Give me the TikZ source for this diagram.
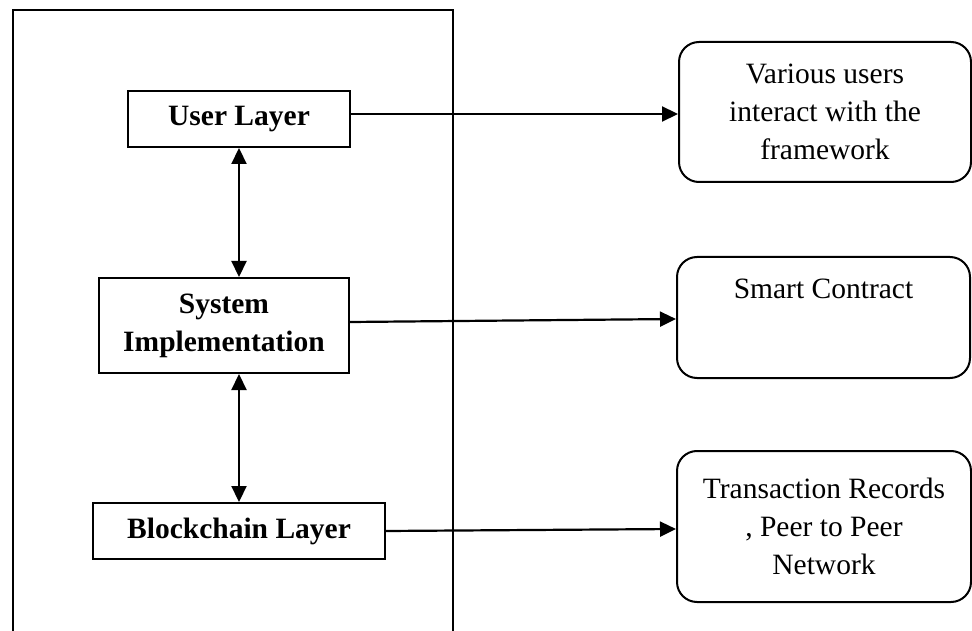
\documentclass[tikz,border=0pt]{standalone}
\usepackage{fontspec}
\setmainfont{Liberation Serif}
\usepackage{tikz}
\usetikzlibrary{arrows.meta,positioning,shapes,calc}

\begin{document}
\begin{tikzpicture}[x=1pt, y=-1pt,
        every node/.style={font=\fontsize{29.5}{38}\selectfont, inner sep=0pt, align=center},
        layerbox/.style={rectangle, draw=black, line width=2pt, font=\fontsize{29.5}{38}\selectfont\bfseries},
        notebox/.style={rectangle, draw=black, line width=2pt, rounded corners=20pt},
        arrow/.style={-{Triangle[length=16pt,width=15pt]}, line width=2.2pt},
        dblarrow/.style={{Triangle[length=16pt,width=15pt]}-{Triangle[length=16pt,width=15pt]}, line width=2.2pt}
    ]
    \useasboundingbox (0,0) rectangle (972,631);
    \clip (0,0) rectangle (972,631);
    % frame round the three layers (runs off the bottom)
    \draw[line width=2pt] (13,660) -- (13,10) -- (453,10) -- (453,660);
    % layers
    \node[layerbox, minimum width=222pt, minimum height=56pt] (user) at (239,119) {User Layer};
    \node[layerbox, minimum width=250pt, minimum height=95pt] (sysimpl) at (224,325.5) {System\\Implementation};
    \node[layerbox, minimum width=292pt, minimum height=56pt] (chain) at (239,531) {Blockchain Layer};
    \draw[dblarrow] (user.south) -- (user.south |- sysimpl.north);
    \draw[dblarrow] (user.south |- sysimpl.south) -- (chain.north);
    % notes on the right
    \node[notebox, minimum width=292pt, minimum height=140pt] (users) at (825,112) {Various users\\interact with the\\framework};
    \node[notebox, minimum width=293pt, minimum height=121pt] (smart) at (823.5,317.5) {};
    \node[below=23pt of smart.north] (smarttext) {Smart Contract};
    \node[notebox, minimum width=294pt, minimum height=151pt] (records) at (824,526.5) {Transaction Records\\, Peer to Peer\\Network};
    \draw[arrow] ([yshift=5pt]user.east) -- ([yshift=5pt]user.east -| users.west);
    \draw[arrow] ([yshift=3.5pt]sysimpl.east) -- ([yshift=-1.5pt]smart.west);
    \draw[arrow] (chain.east) -- ([yshift=-2.5pt]records.west);
\end{tikzpicture}
\end{document}
